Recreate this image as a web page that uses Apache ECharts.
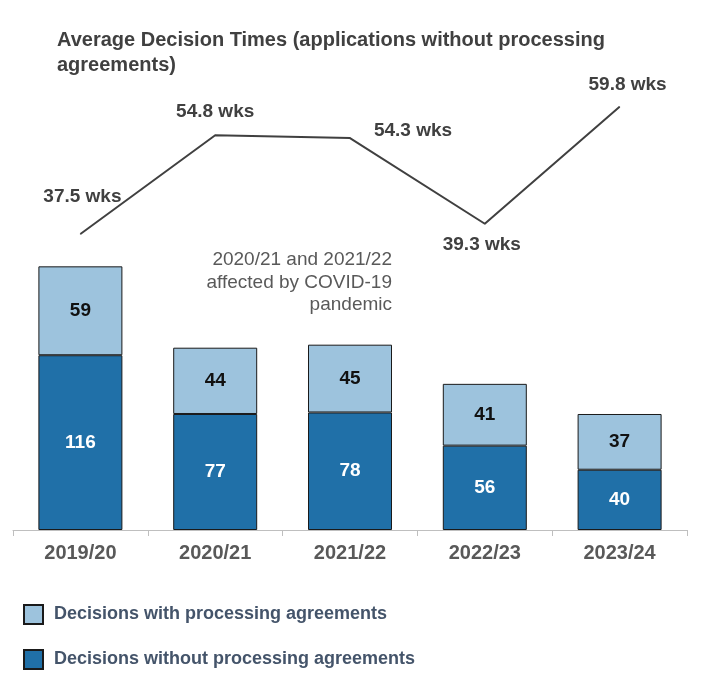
<!DOCTYPE html>
<html>
<head>
<meta charset="utf-8">
<script src="https://cdn.jsdelivr.net/npm/echarts@6/dist/echarts.min.js"></script>
<style>
html,body{margin:0;padding:0;background:#fff;}
#chart{width:709px;height:691px;}
</style>
</head>
<body>
<div id="chart"></div>
<script>
const categories = ['2019/20', '2020/21', '2021/22', '2022/23', '2023/24'];
const withoutAgreements = [116, 77, 78, 56, 40];
const withAgreements = [59, 44, 45, 41, 37];
const avgWeeks = [37.5, 54.8, 54.3, 39.3, 59.8];
const weekLabelOffsets = [[2, -37], [0, -23], [63, -7], [-3, 21], [8, -22]];

const FONT = "'Liberation Sans', Arial, sans-serif";
const chart = echarts.init(document.getElementById('chart'));

chart.setOption({
  animation: false,
  backgroundColor: '#ffffff',
  textStyle: { fontFamily: FONT },
  title: {
    text: 'Average Decision Times (applications without processing\nagreements)',
    left: 57, top: 28, padding: 0,
    textStyle: { fontFamily: FONT, fontSize: 20, fontWeight: 'bold', color: '#404040', lineHeight: 25 }
  },
  legend: {
    orient: 'vertical', left: 23, top: 604, padding: 0,
    itemWidth: 19, itemHeight: 19, itemGap: 24,
    icon: 'rect',
    data: ['Decisions with processing agreements', 'Decisions without processing agreements'],
    textStyle: { fontFamily: FONT, fontSize: 18, fontWeight: 'bold', color: '#44546A', lineHeight: 19, padding: [0, 0, 0, 6] }
  },
  grid: { left: 13, right: 22, top: 78, bottom: 161 },
  xAxis: {
    type: 'category', data: categories,
    axisLine: { lineStyle: { color: '#BFBFBF', width: 1 } },
    axisTick: { show: true, length: 6, lineStyle: { color: '#BFBFBF' } },
    axisLabel: { fontFamily: FONT, fontSize: 20, fontWeight: 'bold', color: '#595959', margin: 13 }
  },
  yAxis: [
    { type: 'value', min: 0, max: 300, show: false, splitLine: { show: false } },
    { type: 'value', min: -14.35, max: 64.83, show: false, splitLine: { show: false } }
  ],
  graphic: [{
    type: 'text', x: 392, y: 249,
    style: {
      text: '2020/21 and 2021/22\naffected by COVID-19\npandemic',
      align: 'right', verticalAlign: 'top',
      font: "19px 'Liberation Sans', Arial, sans-serif",
      lineHeight: 22.5, fill: '#595959'
    }
  }],
  series: [
    {
      name: 'Decisions without processing agreements', type: 'bar', stack: 'd',
      data: withoutAgreements, barWidth: 84,
      itemStyle: { color: '#2070A8', borderColor: '#1a1a1a', borderWidth: 1 },
      label: { show: true, position: 'inside', fontFamily: FONT, fontSize: 19, fontWeight: 'bold', color: '#ffffff' }
    },
    {
      name: 'Decisions with processing agreements', type: 'bar', stack: 'd',
      data: withAgreements, barWidth: 84,
      itemStyle: { color: '#9DC3DD', borderColor: '#1a1a1a', borderWidth: 1 },
      label: { show: true, position: 'inside', fontFamily: FONT, fontSize: 19, fontWeight: 'bold', color: '#111111' }
    },
    {
      name: 'Average decision time', type: 'line', yAxisIndex: 1,
      data: avgWeeks.map((v, i) => ({ value: v, label: { offset: weekLabelOffsets[i] } })),
      symbol: 'circle', symbolSize: 1,
      lineStyle: { color: '#404040', width: 2 },
      itemStyle: { color: '#404040' },
      label: {
        show: true, position: 'inside',
        formatter: p => p.value + ' wks',
        fontFamily: FONT, fontSize: 19, fontWeight: 'bold', color: '#404040'
      }
    }
  ]
});
</script>
</body>
</html>
